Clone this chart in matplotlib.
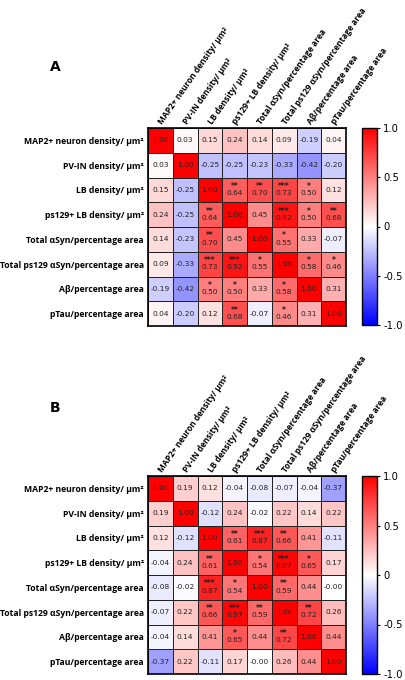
import numpy as np
import matplotlib.pyplot as plt

labels = ["MAP2+ neuron density/ µm²", "PV-IN density/ µm²", "LB density/ µm²",
          "ps129+ LB density/ µm²", "Total αSyn/percentage area",
          "Total ps129 αSyn/percentage area", "Aβ/percentage area",
          "pTau/percentage area"]

corr_a = [
    [1.00, 0.03, 0.15, 0.24, 0.14, 0.09, -0.19, 0.04],
    [0.03, 1.00, -0.25, -0.25, -0.23, -0.33, -0.42, -0.20],
    [0.15, -0.25, 1.00, 0.64, 0.70, 0.73, 0.50, 0.12],
    [0.24, -0.25, 0.64, 1.00, 0.45, 0.92, 0.50, 0.68],
    [0.14, -0.23, 0.70, 0.45, 1.00, 0.55, 0.33, -0.07],
    [0.09, -0.33, 0.73, 0.92, 0.55, 1.00, 0.58, 0.46],
    [-0.19, -0.42, 0.50, 0.50, 0.33, 0.58, 1.00, 0.31],
    [0.04, -0.20, 0.12, 0.68, -0.07, 0.46, 0.31, 1.00],
]
stars_a = [
    ["", "", "", "", "", "", "", ""],
    ["", "", "", "", "", "", "", ""],
    ["", "", "", "**", "**", "***", "*", ""],
    ["", "", "**", "", "", "***", "*", "**"],
    ["", "", "**", "", "", "*", "", ""],
    ["", "", "***", "***", "*", "", "*", "*"],
    ["", "", "*", "*", "", "*", "", ""],
    ["", "", "", "**", "", "*", "", ""],
]

corr_b = [
    [1.00, 0.19, 0.12, -0.04, -0.08, -0.07, -0.04, -0.37],
    [0.19, 1.00, -0.12, 0.24, -0.02, 0.22, 0.14, 0.22],
    [0.12, -0.12, 1.00, 0.61, 0.87, 0.66, 0.41, -0.11],
    [-0.04, 0.24, 0.61, 1.00, 0.54, 0.97, 0.65, 0.17],
    [-0.08, -0.02, 0.87, 0.54, 1.00, 0.59, 0.44, -0.001],
    [-0.07, 0.22, 0.66, 0.97, 0.59, 1.00, 0.72, 0.26],
    [-0.04, 0.14, 0.41, 0.65, 0.44, 0.72, 1.00, 0.44],
    [-0.37, 0.22, -0.11, 0.17, -0.001, 0.26, 0.44, 1.00],
]
stars_b = [
    ["", "", "", "", "", "", "", ""],
    ["", "", "", "", "", "", "", ""],
    ["", "", "", "**", "***", "**", "", ""],
    ["", "", "**", "", "*", "***", "*", ""],
    ["", "", "***", "*", "", "**", "", ""],
    ["", "", "**", "***", "**", "", "**", ""],
    ["", "", "", "*", "", "**", "", ""],
    ["", "", "", "", "", "", "", ""],
]

cbar_ticks = [-1.0, -0.5, 0, 0.5, 1.0]
cbar_ticklabels = ["-1.0", "-0.5", "0", "0.5", "1.0"]

W, H = 405, 680
fig = plt.figure(figsize=(W / 100, H / 100), dpi=100)
fig.patch.set_facecolor('white')


def px(x0, y0, x1, y1):
    # pixel box (top-left origin) -> figure fraction
    return [x0 / W, 1 - y1 / H, (x1 - x0) / W, (y1 - y0) / H]


def heatmap(box, cbox, corr, stars, letter, lpos):
    ax = fig.add_axes(px(*box))
    data = np.array(corr)
    n = len(labels)
    mesh = ax.pcolormesh(np.arange(n + 1), np.arange(n + 1), data, cmap='bwr',
                         vmin=-1, vmax=1, edgecolors='#222222', linewidth=0.7)
    ax.set_xlim(0, n)
    ax.set_ylim(n, 0)
    for i in range(n):
        for j in range(n):
            s = stars[i][j]
            val = "%.2f" % data[i, j]
            if s:
                ax.text(j + 0.5, i + 0.36, s, ha='center', va='center',
                        fontsize=5.5, color='#222222', fontweight='bold')
                ax.text(j + 0.5, i + 0.63, val, ha='center', va='center',
                        fontsize=5.3, color='#222222')
            else:
                ax.text(j + 0.5, i + 0.5, val, ha='center', va='center',
                        fontsize=5.3, color='#222222')
    ax.set_xticks(np.arange(n) + 0.5)
    ax.set_yticks(np.arange(n) + 0.5)
    ax.xaxis.tick_top()
    ax.set_xticklabels(labels, rotation=55, ha='left', va='center',
                       rotation_mode='anchor', fontsize=6.0,
                       fontweight='bold', family='Open Sans')
    ax.set_yticklabels(labels, fontsize=6.2, fontweight='bold', family='Open Sans')
    ax.tick_params(length=0, pad=3)
    for sp in ax.spines.values():
        sp.set_linewidth(1.2)

    cax = fig.add_axes(px(*cbox))
    cb = fig.colorbar(mesh, cax=cax, ticks=cbar_ticks)
    cb.ax.set_yticklabels(cbar_ticklabels, fontsize=7.2)
    cb.ax.tick_params(length=2.5, width=0.8, pad=2)
    cb.outline.set_linewidth(1.0)

    fig.text(lpos[0] / W, 1 - lpos[1] / H, letter, fontsize=10,
             fontweight='bold', ha='center', va='center')


heatmap((148, 128, 346, 326), (362, 128, 377, 325), corr_a, stars_a, "A", (55, 67))
heatmap((148, 476, 346, 674), (362, 476, 377, 674), corr_b, stars_b, "B", (55, 408))

plt.savefig('out.png', dpi=100)
